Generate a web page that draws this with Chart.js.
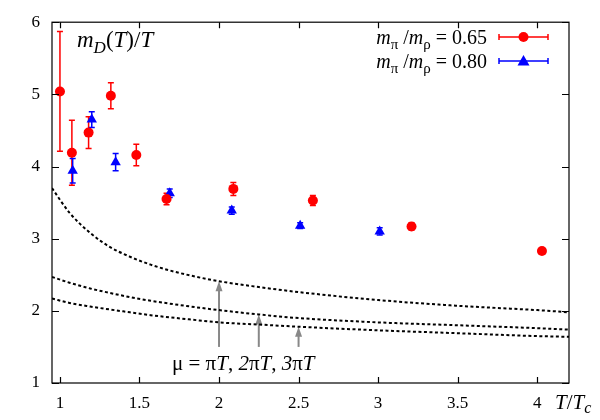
<!DOCTYPE html>
<html>
<head>
<meta charset="utf-8">
<script src="https://cdn.jsdelivr.net/npm/chart.js@4.4.1/dist/chart.umd.min.js"></script>
<style>
  html, body { margin: 0; padding: 0; background: #fff; }
</style>
</head>
<body>
<canvas id="grafico" width="600" height="420"></canvas>
<script>
// tick labels
const xTicks = [1, 1.5, 2, 2.5, 3, 3.5, 4];
const yTicks = [1, 2, 3, 4, 5, 6];

// m_pi/m_rho = 0.65
const redT   = [1.00, 1.075, 1.18, 1.32, 1.48, 1.67, 2.09, 2.59, 3.21, 4.03];
const redM   = [5.04, 4.19, 4.47, 4.98, 4.16, 3.55, 3.69, 3.53, 3.17, 2.83];
const redErr = [0.83, 0.45, 0.22, 0.18, 0.15, 0.08, 0.09, 0.07, 0.05, 0.03];

// m_pi/m_rho = 0.80
const blueT   = [1.08, 1.20, 1.35, 1.69, 2.08, 2.51, 3.01];
const blueM   = [3.94, 4.65, 4.06, 3.63, 3.39, 3.18, 3.10];
const blueErr = [0.17, 0.11, 0.12, 0.06, 0.05, 0.04, 0.05];

// dashed curves, mu = piT, 2piT, 3piT
const curveT = [0.95, 1.06, 1.19, 1.31, 1.44, 1.57, 1.69, 1.82, 2.0, 2.25, 2.5, 3.0, 3.5, 4.0, 4.2];
const curve1 = [3.70, 3.36, 3.08, 2.89, 2.75, 2.64, 2.56, 2.49, 2.41, 2.33, 2.26, 2.15, 2.07, 2.01, 1.98];
const curve2 = [2.47, 2.39, 2.31, 2.25, 2.19, 2.14, 2.10, 2.06, 2.01, 1.95, 1.90, 1.84, 1.80, 1.76, 1.74];
const curve3 = [2.17, 2.11, 2.06, 2.02, 1.98, 1.94, 1.91, 1.88, 1.84, 1.81, 1.78, 1.73, 1.69, 1.65, 1.64];

// arrows pointing at the curves
const arrowT   = [2.0, 2.25, 2.5];
const arrowTop = [2.41, 1.95, 1.78];
const arrowBase = 1.5;

const SERIF = '"Liberation Serif", "Times New Roman", Times, serif';

function pts(xs, ys) {
    return xs.map((x, i) => ({ x: x, y: ys[i] }));
}

// draws text made of pieces (italic / subscript)
function drawRich(ctx, parts, x, y, align) {
    let total = 0;
    parts.forEach(p => {
        ctx.font = (p.it ? 'italic ' : '') + p.size + 'px ' + SERIF;
        p.w = ctx.measureText(p.t).width;
        total += p.w;
    });
    let cx = align === 'right' ? x - total : x;
    ctx.textAlign = 'left';
    ctx.textBaseline = 'alphabetic';
    parts.forEach(p => {
        ctx.font = (p.it ? 'italic ' : '') + p.size + 'px ' + SERIF;
        ctx.fillText(p.t, cx, y + (p.dy || 0));
        cx += p.w;
    });
}

function errBar(ctx, xs, ys, xv, yv, e, color) {
    const px = xs.getPixelForValue(xv);
    const top = ys.getPixelForValue(yv + e);
    const bot = ys.getPixelForValue(yv - e);
    ctx.strokeStyle = color;
    ctx.lineWidth = 1.5;
    ctx.beginPath();
    ctx.moveTo(px, top); ctx.lineTo(px, bot);
    ctx.moveTo(px - 3, top); ctx.lineTo(px + 3, top);
    ctx.moveTo(px - 3, bot); ctx.lineTo(px + 3, bot);
    ctx.stroke();
}

const extras = {
    id: 'extras',
    beforeDatasetsDraw(chart) {
        const ctx = chart.ctx;
        const xs = chart.scales.x, ys = chart.scales.y;
        ctx.save();
        // arrows
        ctx.strokeStyle = '#888';
        ctx.fillStyle = '#888';
        ctx.lineWidth = 2;
        arrowT.forEach((t, i) => {
            const px = xs.getPixelForValue(t);
            const y0 = ys.getPixelForValue(arrowBase);
            const y1 = ys.getPixelForValue(arrowTop[i]);
            ctx.beginPath();
            ctx.moveTo(px, y0); ctx.lineTo(px, y1 + 8);
            ctx.stroke();
            ctx.beginPath();
            ctx.moveTo(px, y1);
            ctx.lineTo(px - 3.5, y1 + 10);
            ctx.lineTo(px + 3.5, y1 + 10);
            ctx.closePath();
            ctx.fill();
        });
        // error bars
        redT.forEach((t, i) => errBar(ctx, xs, ys, t, redM[i], redErr[i], '#f00'));
        blueT.forEach((t, i) => errBar(ctx, xs, ys, t, blueM[i], blueErr[i], '#00f'));
        ctx.restore();
    },
    afterDraw(chart) {
        const ctx = chart.ctx;
        const a = chart.chartArea;
        const xs = chart.scales.x, ys = chart.scales.y;
        ctx.save();
        // frame and inward ticks
        ctx.strokeStyle = '#000';
        ctx.lineWidth = 1.2;
        ctx.strokeRect(a.left, a.top, a.right - a.left, a.bottom - a.top);
        ctx.beginPath();
        xTicks.forEach(v => {
            const px = Math.round(xs.getPixelForValue(v)) + 0.5;
            ctx.moveTo(px, a.bottom); ctx.lineTo(px, a.bottom - 6);
            ctx.moveTo(px, a.top); ctx.lineTo(px, a.top + 6);
        });
        yTicks.forEach(v => {
            const py = Math.round(ys.getPixelForValue(v)) + 0.5;
            ctx.moveTo(a.left, py); ctx.lineTo(a.left + 7, py);
            ctx.moveTo(a.right, py); ctx.lineTo(a.right - 7, py);
        });
        ctx.stroke();

        ctx.fillStyle = '#000';
        // title inside the frame
        drawRich(ctx, [
            { t: 'm', it: true, size: 23 },
            { t: 'D', it: true, size: 17, dy: 6 },
            { t: '(', size: 23 },
            { t: 'T', it: true, size: 23 },
            { t: ')/', size: 23 },
            { t: 'T', it: true, size: 23 }
        ], 77, 47, 'left');

        // x axis label
        drawRich(ctx, [
            { t: 'T', it: true, size: 21 },
            { t: '/', size: 21 },
            { t: 'T', it: true, size: 21 },
            { t: 'c', it: true, size: 16, dy: 4 }
        ], 555, 409, 'left');

        // curve label
        drawRich(ctx, [
            { t: 'μ = π', size: 21 },
            { t: 'T', it: true, size: 21 },
            { t: ', ', size: 21 },
            { t: '2', it: true, size: 21 },
            { t: 'π', size: 21 },
            { t: 'T', it: true, size: 21 },
            { t: ', ', size: 21 },
            { t: '3', it: true, size: 21 },
            { t: 'π', size: 21 },
            { t: 'T', it: true, size: 21 }
        ], 172, 370, 'left');

        // legend
        const rows = [
            { v: '0.65', color: '#f00', y: 37, style: 'circle' },
            { v: '0.80', color: '#00f', y: 61, style: 'triangle' }
        ];
        rows.forEach(r => {
            ctx.fillStyle = '#000';
            drawRich(ctx, [
                { t: 'm', it: true, size: 20 },
                { t: 'π', size: 15, dy: 5 },
                { t: ' /', size: 20 },
                { t: 'm', it: true, size: 20 },
                { t: 'ρ', size: 15, dy: 5 },
                { t: ' = ' + r.v, size: 20 }
            ], 487, r.y + 7, 'right');
            ctx.strokeStyle = r.color;
            ctx.fillStyle = r.color;
            ctx.lineWidth = 1.5;
            ctx.beginPath();
            ctx.moveTo(499, r.y); ctx.lineTo(548, r.y);
            ctx.moveTo(499, r.y - 3); ctx.lineTo(499, r.y + 3);
            ctx.moveTo(548, r.y - 3); ctx.lineTo(548, r.y + 3);
            ctx.stroke();
            ctx.beginPath();
            if (r.style === 'circle') {
                ctx.arc(523.5, r.y, 5, 0, Math.PI * 2);
            } else {
                ctx.moveTo(523.5, r.y - 6);
                ctx.lineTo(529.5, r.y + 4.5);
                ctx.lineTo(517.5, r.y + 4.5);
                ctx.closePath();
            }
            ctx.fill();
        });
        ctx.restore();
    }
};

const ctx = document.getElementById('grafico');

const dashed = { type: 'line', borderColor: '#000', borderWidth: 2, borderDash: [3, 2.5], pointRadius: 0, cubicInterpolationMode: 'monotone' };

new Chart(ctx, {
    type: 'scatter',
    data: {
        datasets: [
            Object.assign({ data: pts(curveT, curve1) }, dashed),
            Object.assign({ data: pts(curveT, curve2) }, dashed),
            Object.assign({ data: pts(curveT, curve3) }, dashed),
            { data: pts(redT, redM), pointStyle: 'circle', pointRadius: 5, backgroundColor: '#f00', borderColor: '#f00', borderWidth: 0 },
            { data: pts(blueT, blueM), pointStyle: 'triangle', pointRadius: 6, backgroundColor: '#00f', borderColor: '#00f', borderWidth: 0 }
        ]
    },
    options: {
        responsive: false,
        animation: false,
        layout: { padding: { top: 21, right: 31, left: 0, bottom: 0 } },
        plugins: { legend: { display: false }, tooltip: { enabled: false } },
        scales: {
            x: {
                type: 'linear',
                min: 0.95,
                max: 4.2,
                afterBuildTicks: s => { s.ticks = xTicks.map(v => ({ value: v })); },
                afterFit: s => { s.height = 37; },
                grid: { display: false, drawTicks: false },
                border: { display: false },
                ticks: { color: '#000', padding: 10, maxRotation: 0, font: { family: SERIF, size: 17 }, callback: v => String(v) }
            },
            y: {
                min: 1,
                max: 6,
                afterBuildTicks: s => { s.ticks = yTicks.map(v => ({ value: v })); },
                afterFit: s => { s.width = 52; },
                grid: { display: false, drawTicks: false },
                border: { display: false },
                ticks: { color: '#000', padding: 12, font: { family: SERIF, size: 17 }, callback: v => String(v) }
            }
        }
    },
    plugins: [extras]
});
</script>
</body>
</html>
